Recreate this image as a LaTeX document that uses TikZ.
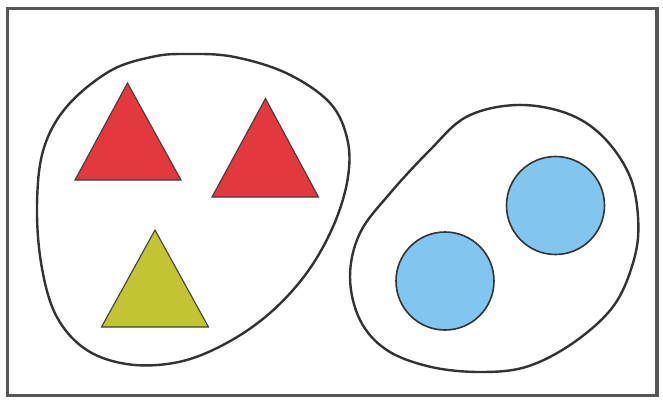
\documentclass[tikz,border=0pt]{standalone}
\definecolor{trired}{HTML}{E2383E}
\definecolor{triyel}{HTML}{C3C431}
\definecolor{ballblue}{HTML}{82C6EF}
\definecolor{framegrey}{HTML}{555555}
\tikzset{
  blob/.style={draw=black!80, line width=2.4pt, smooth cycle, tension=0.6},
  tri/.style={draw=black!75, line width=1.1pt, line join=miter},
  ball/.style={draw=black!80, line width=1.6pt, fill=ballblue},
}
\begin{document}
\begin{tikzpicture}[x=1pt,y=-1pt]
\useasboundingbox (0,0) rectangle (663,401);
\fill[white] (0,0) rectangle (663,401);
% frame
\draw[framegrey, line width=3.5pt] (7.5,8.5) rectangle (657,395.5);
% left blob
\draw[blob] plot coordinates {(186.7,54) (233,56.7) (286.7,73.3) (330,103) (347.5,140) (347.5,180) (333,226.7) (306.7,273) (270,313) (226.7,343) (180,361.7) (130,364.5) (86.7,350) (56.7,316.7) (41.7,266.7) (37,206.7) (43.3,150) (66.7,106.7) (110,71) (153,56.7)};
% right blob
\draw[blob] plot coordinates {(516.7,105) (566.7,113.3) (603,136.7) (630,176.7) (638.3,223) (633,263) (613,306.7) (573,343) (526.7,366.7) (480,372) (430,366.7) (386.7,350) (360,320) (350,276.7) (360,233) (390,193.3) (430,150) (466.7,116.7)};
% triangles
\filldraw[tri, fill=trired] (127.5,83) coordinate (t1a) -- (181,180) coordinate (t1r) -- (75,180) coordinate (t1l) -- cycle;
\filldraw[tri, fill=trired] (265.5,98.5) coordinate (t2a) -- (318.5,197) coordinate (t2r) -- (212,197) coordinate (t2l) -- cycle;
\filldraw[tri, fill=triyel] (155,230) coordinate (t3a) -- (208.5,327) coordinate (t3r) -- (101.5,327) coordinate (t3l) -- cycle;
% circles
\node[ball, circle, minimum width=98pt, minimum height=98pt, inner sep=0pt] (c1) at (445,281) {};
\node[ball, circle, minimum width=98pt, minimum height=98pt, inner sep=0pt] (c2) at (555.5,205.5) {};
\end{tikzpicture}
\end{document}
